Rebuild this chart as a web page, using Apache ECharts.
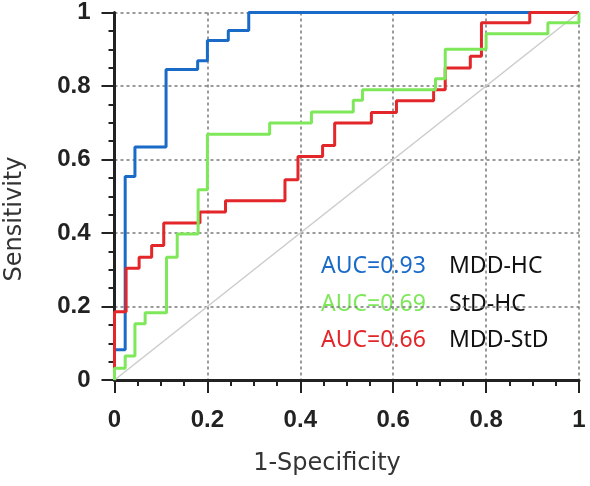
<!DOCTYPE html>
<html>
<head>
<meta charset="utf-8">
<script src="https://cdn.jsdelivr.net/npm/echarts@6/dist/echarts.min.js"></script>
<style>
html,body{margin:0;padding:0;background:#fff;}
#chart{width:590px;height:486px;}
</style>
</head>
<body>
<div id="chart"></div>
<script>
// Tick labels
var tickValues = [0, 0.2, 0.4, 0.6, 0.8, 1];
var xAxisTitle = '1-Specificity';
var yAxisTitle = 'Sensitivity';

// ROC curves as step points (vertical move first, then horizontal)
var seriesNames = ['MDD-HC', 'StD-HC', 'MDD-StD'];
var aucLabels = ['AUC=0.93', 'AUC=0.69', 'AUC=0.66'];

var fprMddHc = [0, 0.023, 0.044, 0.111, 0.179, 0.2, 0.245, 0.289, 1];
var tprMddHc = [0, 0.082, 0.554, 0.634, 0.845, 0.869, 0.924, 0.951, 1];

var fprStdHc = [0, 0.023, 0.044, 0.066, 0.112, 0.135, 0.18, 0.2, 0.334, 0.424, 0.514, 0.534, 0.691, 0.712, 0.80, 0.933, 1, 1];
var tprStdHc = [0, 0.032, 0.065, 0.153, 0.183, 0.334, 0.397, 0.518, 0.669, 0.699, 0.729, 0.761, 0.790, 0.820, 0.90, 0.942, 0.972, 1];

var fprMddStd = [0, 0.025, 0.053, 0.080, 0.106, 0.184, 0.239, 0.367, 0.395, 0.448, 0.474, 0.553, 0.607, 0.687, 0.712, 0.766, 0.79, 0.894, 1];
var tprMddStd = [0, 0.186, 0.304, 0.334, 0.366, 0.427, 0.457, 0.488, 0.545, 0.608, 0.638, 0.699, 0.728, 0.760, 0.790, 0.849, 0.881, 0.972, 1];

var chanceX = [0, 1];
var chanceY = [0, 1];

function pairs(xs, ys) { return xs.map(function (x, i) { return [x, ys[i]]; }); }

var colors = ['#1a6ac8', '#7ee85a', '#e2262a'];

var axisCommon = {
  type: 'value', min: 0, max: 1, interval: 0.2,
  axisLine: { show: true, onZero: false, lineStyle: { color: '#222', width: 3 } },
  axisTick: { show: true, inside: false, length: 13, lineStyle: { color: '#222', width: 2 } },
  minorTick: { show: true, splitNumber: 4, length: 6, lineStyle: { color: '#222', width: 2 } },
  splitLine: { show: true, lineStyle: { color: '#7a7a7a', width: 1.5, type: [3, 3] } },
  axisLabel: {
    fontFamily: 'Liberation Sans', fontWeight: 'bold', fontSize: 24, color: '#222',
    formatter: function (v) { return String(+v.toFixed(1)); }
  }
};

var chart = echarts.init(document.getElementById('chart'), null, { renderer: 'canvas' });
chart.setOption({
  animation: false,
  backgroundColor: '#fff',
  grid: { left: 114.5, right: 11, top: 12.5, bottom: 106, containLabel: false },
  xAxis: Object.assign({}, axisCommon, {
    axisLabel: Object.assign({}, axisCommon.axisLabel, { margin: 28 })
  }),
  yAxis: Object.assign({}, axisCommon, {
    axisLabel: Object.assign({}, axisCommon.axisLabel, { margin: 24 })
  }),
  series: [
    {
      type: 'line', data: pairs(chanceX, chanceY), symbol: 'none', silent: true, clip: false,
      lineStyle: { color: '#cccccc', width: 1.5 }, z: 1
    },
    {
      name: seriesNames[0], type: 'line', step: 'start', data: pairs(fprMddHc, tprMddHc),
      symbol: 'none', clip: false, lineStyle: { color: colors[0], width: 3 }, z: 2
    },
    {
      name: seriesNames[2], type: 'line', step: 'start', data: pairs(fprMddStd, tprMddStd),
      symbol: 'none', clip: false, lineStyle: { color: colors[2], width: 3 }, z: 3
    },
    {
      name: seriesNames[1], type: 'line', step: 'start', data: pairs(fprStdHc, tprStdHc),
      symbol: 'none', clip: false, lineStyle: { color: colors[1], width: 3 }, z: 4
    }
  ],
  graphic: [
    { type: 'text', left: null, x: 15, y: 219, rotation: Math.PI / 2,
      style: { text: yAxisTitle, font: '24px "DejaVu Sans"', fill: '#333', align: 'center', verticalAlign: 'middle' } },
    { type: 'text', x: 327, y: 464,
      style: { text: xAxisTitle, font: '24px "DejaVu Sans"', fill: '#333', align: 'center', verticalAlign: 'middle' } },
    { type: 'text', x: 321, y: 266, style: { text: aucLabels[0], font: '23px "Noto Sans"', fill: colors[0], align: 'left', verticalAlign: 'middle' } },
    { type: 'text', x: 449, y: 266, style: { text: seriesNames[0], font: '23px "Noto Sans"', fill: '#111', align: 'left', verticalAlign: 'middle' } },
    { type: 'text', x: 321, y: 304, style: { text: aucLabels[1], font: '23px "Noto Sans"', fill: colors[1], align: 'left', verticalAlign: 'middle' } },
    { type: 'text', x: 449, y: 304, style: { text: seriesNames[1], font: '23px "Noto Sans"', fill: '#111', align: 'left', verticalAlign: 'middle' } },
    { type: 'text', x: 321, y: 340, style: { text: aucLabels[2], font: '23px "Noto Sans"', fill: colors[2], align: 'left', verticalAlign: 'middle' } },
    { type: 'text', x: 449, y: 340, style: { text: seriesNames[2], font: '23px "Noto Sans"', fill: '#111', align: 'left', verticalAlign: 'middle' } }
  ]
});
</script>
</body>
</html>
